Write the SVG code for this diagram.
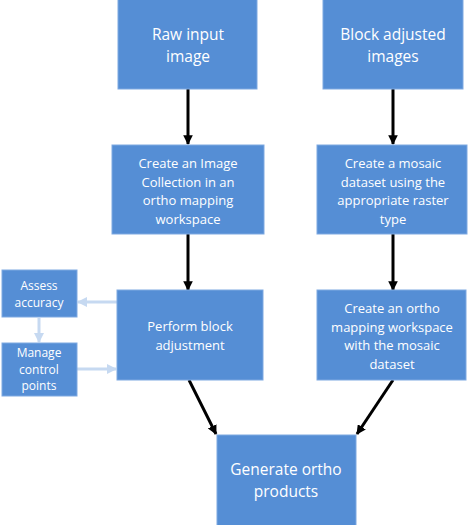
<svg xmlns="http://www.w3.org/2000/svg" width="470" height="525" viewBox="0 0 470 525">
<defs>
<style>
.box{fill:#558ED5;stroke:#7EA9E1;stroke-width:1}
.t{font-family:"Open Sans","Liberation Sans",sans-serif;fill:#fff;text-anchor:middle}
.l{font-size:15.5px}
.m{font-size:13px}
.s{font-size:12px}
.k{stroke:#000;stroke-width:3;fill:none}
.lt{stroke:#C6D9F1;stroke-width:3;fill:none}
</style>
<marker id="ah" viewBox="0 0 10 10" refX="9" refY="5" markerWidth="3.2" markerHeight="3.2" orient="auto" markerUnits="strokeWidth"><path d="M0,0 L10,5 L0,10 z" fill="#000"/></marker>
<marker id="la" viewBox="0 0 10 10" refX="9" refY="5" markerWidth="3.4" markerHeight="3.4" orient="auto" markerUnits="strokeWidth"><path d="M0,0 L10,5 L0,10 z" fill="#C6D9F1"/></marker>
</defs>
<g id="connectors">
<line class="k" x1="188" y1="89" x2="188" y2="144" marker-end="url(#ah)"/>
<line class="k" x1="393" y1="89" x2="393" y2="144" marker-end="url(#ah)"/>
<line class="k" x1="188" y1="234" x2="188" y2="290" marker-end="url(#ah)"/>
<line class="k" x1="393" y1="234" x2="393" y2="290" marker-end="url(#ah)"/>
<line class="k" x1="189" y1="380" x2="216" y2="434" marker-end="url(#ah)"/>
<line class="k" x1="393" y1="380" x2="357" y2="434" marker-end="url(#ah)"/>
<line class="lt" x1="117" y1="302" x2="78" y2="302" marker-end="url(#la)"/>
<line class="lt" x1="39" y1="318" x2="39" y2="342" marker-end="url(#la)"/>
<line class="lt" x1="77" y1="369" x2="116" y2="369" marker-end="url(#la)"/>
</g>
<g id="raw"><rect class="box" x="118" y="-1" width="139" height="90"/><text class="t l" x="188" y="40">Raw input</text><text class="t l" x="188" y="62">image</text></g>
<g id="blockadj"><rect class="box" x="323" y="-1" width="140" height="90"/><text class="t l" x="393" y="40">Block adjusted</text><text class="t l" x="393" y="62">images</text></g>
<g id="collection"><rect class="box" x="112" y="145" width="152" height="89"/><text class="t m" x="188" y="168">Create an Image</text><text class="t m" x="188" y="187">Collection in an</text><text class="t m" x="188" y="205">ortho mapping</text><text class="t m" x="188" y="224">workspace</text></g>
<g id="mosaic"><rect class="box" x="317" y="145" width="150" height="89"/><text class="t m" x="393" y="168">Create a mosaic</text><text class="t m" x="393" y="187">dataset using the</text><text class="t m" x="393" y="205">appropriate raster</text><text class="t m" x="393" y="224">type</text></g>
<g id="perform"><rect class="box" x="117" y="290" width="146" height="90"/><text class="t m" x="190" y="331">Perform block</text><text class="t m" x="190" y="350">adjustment</text></g>
<g id="workspace"><rect class="box" x="317" y="290" width="149" height="90"/><text class="t m" x="392" y="313">Create an ortho</text><text class="t m" x="392" y="332">mapping workspace</text><text class="t m" x="392" y="350">with the mosaic</text><text class="t m" x="392" y="369">dataset</text></g>
<g id="assess"><rect class="box" x="2" y="270" width="75" height="47"/><text class="t s" x="39" y="290">Assess</text><text class="t s" x="39" y="307">accuracy</text></g>
<g id="manage"><rect class="box" x="2" y="343" width="75" height="53"/><text class="t s" x="39" y="357">Manage</text><text class="t s" x="39" y="374">control</text><text class="t s" x="39" y="390">points</text></g>
<g id="generate"><rect class="box" x="217" y="435" width="139" height="91"/><text class="t l" x="286" y="475">Generate ortho</text><text class="t l" x="286" y="497">products</text></g>
</svg>
